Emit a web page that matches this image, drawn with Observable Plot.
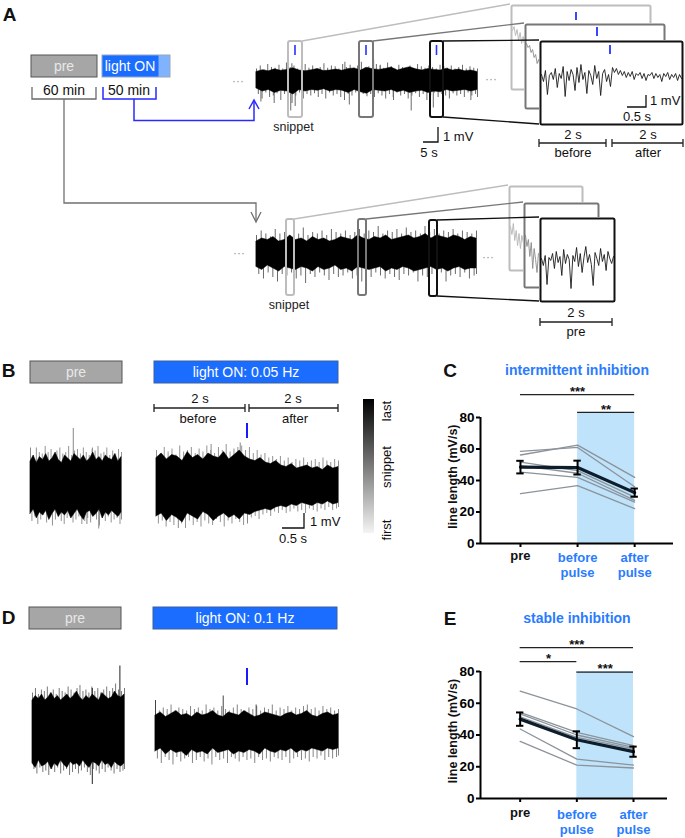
<!DOCTYPE html>
<html><head><meta charset="utf-8">
<script src="https://cdn.jsdelivr.net/npm/d3@7"></script>
<script src="https://cdn.jsdelivr.net/npm/@observablehq/plot@0.6"></script>
<style>
html,body{margin:0;padding:0;background:#fff;}
#fig{position:relative;width:685px;height:838px;overflow:hidden;font-family:"Liberation Sans",Arial,Helvetica,sans-serif;}
#fig svg{font-family:"Liberation Sans",Arial,Helvetica,sans-serif;}
.stat text{font-weight:bold;}
</style></head><body><div id="fig"></div>
<script>
// ================= DATA =================
// Panel C: line length (mV/s), 6 animals
const conditionLabels = ["pre", "before\npulse", "after\npulse"];
const cPre    = [58.5, 56.2, 51.6, 49.5, 45.3, 31.6];
const cBefore = [61.0, 62.5, 46.3, 44.6, 42.0, 36.8];
const cAfter  = [36.0, 42.0, 29.5, 27.4, 26.3, 22.1];
const cMean = [48.5, 48.2, 32.3];
const cSem  = [4.0, 4.4, 2.6];
const cSigPairs = [[1, 3, "***"], [2, 3, "**"]];
// Panel E
const ePre    = [67.6, 54.3, 53.3, 51.5, 43.8, 36.0];
const eBefore = [56.4, 41.7, 40.0, 38.5, 24.8, 21.0];
const eAfter  = [39.0, 33.3, 32.2, 31.2, 21.0, 19.2];
const eMean = [50.0, 37.0, 29.5];
const eSem  = [4.2, 5.3, 3.2];
const eSigPairs = [[1, 3, "***"], [1, 2, "*"], [2, 3, "***"]];
const yTicks = [0, 20, 40, 60, 80];

// Traces (mV): black core envelope (up/dn), outer hair extents (hairUp/hairDn), isolated spikes [time fraction, mV]
const aTopUp = [0.5,0.62,0.55,0.68,0.58,0.64,0.75,0.6,0.55,0.62,0.7,0.56,0.6,0.66,0.58,0.7,0.74,0.6,0.78,0.68,0.64,0.7,0.8,0.6,0.72,0.82,0.68,0.6,0.7,0.64,0.6,0.72,0.6,0.66,0.55,0.6,0.5];
const aTopDn = [-0.6,-0.8,-0.7,-0.9,-0.75,-0.8,-1.0,-0.7,-0.8,-0.7,-0.75,-0.65,-0.8,-0.7,-0.75,-0.9,-0.7,-0.85,-0.95,-0.7,-0.75,-0.8,-0.7,-0.85,-0.75,-0.9,-0.8,-0.75,-0.9,-0.8,-0.85,-0.7,-0.8,-0.75,-0.7,-0.8,-0.7];
const aTopHairUp = [0.7,0.9,0.65,1.0,0.8,0.75,0.95,0.7,1.1,0.8,0.9,0.7,0.85,1.0,0.75,0.9,0.7,0.8,1.05,0.75,0.9,0.85,0.7,1.0,0.8,0.95,0.75,0.9,1.15,0.8,0.85,0.7,1.0,0.9,0.75,1.1,0.85,0.7,0.95,0.8,0.75,0.9,0.7,1.0,0.85,0.75,0.9,0.8,0.7,0.95,0.85,0.75,0.9,0.7,0.8,0.95,0.7,0.85,0.75,0.7];
const aTopHairDn = [-1.0,-1.3,-0.9,-1.2,-1.1,-0.95,-1.4,-1.0,-1.2,-1.6,-1.1,-0.9,-1.3,-1.0,-1.1,-0.95,-1.2,-1.0,-1.3,-0.9,-1.1,-1.0,-1.2,-1.4,-1.0,-1.1,-0.9,-1.3,-1.0,-1.15,-1.0,-1.2,-0.95,-1.1,-1.3,-1.0,-1.2,-0.9,-1.1,-1.0,-1.3,-1.1,-0.95,-1.2,-1.0,-1.4,-1.1,-0.9,-1.2,-1.0,-1.1,-1.3,-0.95,-1.1,-1.0,-1.2,-0.9,-1.1,-1.0,-1.2];
const aTopSpikes = [[0.16,1.05],[0.4,1.15],[0.53,1.3],[0.56,0.95],[0.02,-1.5],[0.08,-1.6],[0.155,-2.1],[0.175,-1.8],[0.42,-1.7],[0.62,-1.4],[0.7,-2.1],[0.8,-1.9],[0.97,-1.4]];
const aBotUp = [0.8,1.0,0.9,1.1,0.8,0.9,1.2,0.9,1.0,0.8,1.1,0.9,1.0,0.8,0.9,1.1,1.0,0.9,1.2,1.0,0.9,1.1,1.0,1.2,0.9,1.0,1.1,1.2,1.0,1.1,1.3,1.0,1.2,1.1,1.0,1.2,1.1,0.9,1.1,1.0];
const aBotDn = [-0.9,-1.1,-0.8,-1.0,-1.2,-0.9,-1.0,-1.1,-0.9,-1.0,-1.2,-0.9,-1.1,-1.0,-0.8,-1.1,-1.0,-1.2,-0.9,-1.0,-1.1,-1.0,-0.9,-1.2,-1.0,-1.1,-0.9,-1.0,-1.2,-1.1,-1.0,-0.9,-1.1,-1.0,-1.2,-1.0,-0.9,-1.1,-1.0,-1.0];
const aBotHairUp = [1.2,1.5,1.3,1.1,1.6,1.3,1.4,1.2,1.5,1.3,1.7,1.2,1.4,1.3,1.5,1.2,1.6,1.4,1.3,1.5,1.2,1.4,1.6,1.3,1.5,1.4,1.8,1.3,1.5,1.4,1.6,1.3,1.7,1.4,1.5,1.3,1.8,1.4,1.6,1.3,1.5,1.4,1.6,1.3,1.5,1.4,1.3,1.5];
const aBotHairDn = [-1.4,-1.7,-1.3,-1.6,-1.9,-1.4,-1.5,-1.3,-1.7,-1.5,-2.0,-1.4,-1.6,-1.3,-1.5,-1.8,-1.4,-1.6,-1.5,-1.3,-1.7,-1.5,-1.9,-1.4,-1.6,-1.3,-1.5,-1.7,-1.4,-1.6,-1.8,-1.4,-1.5,-1.3,-1.9,-1.5,-1.6,-1.4,-1.7,-1.3,-1.9,-1.5,-1.4,-1.6,-1.3,-1.7,-1.5,-1.4];
// zoomed snippets (single traces, mV)
const aTopSnippet = [0.2,-0.5,0.6,-1.8,0.1,0.4,-0.3,0.8,-1.1,0.3,-0.2,1.0,-2.0,0.5,-0.4,0.7,0.2,-1.4,0.9,-0.6,1.2,-0.3,0.4,-1.7,0.6,0.1,-0.8,1.1,-0.2,0.5,-1.9,0.3,0.7,-0.5,0.2,-1.0,
  0.9,0.4,0.8,0.2,0.6,0.1,0.5,-0.1,0.4,0.0,0.5,-0.3,0.3,0.1,0.4,-0.2,0.3,-0.4,0.2,0.1,0.4,-0.2,0.3,-0.1,0.2,-0.5,0.3,0.0,0.4,-0.3,0.2,-0.1,0.3,-0.4,0.2,-0.2];
const aBotSnippet = [0.2,-0.5,0.5,-2.4,0.3,0.0,0.7,-0.8,0.9,-0.2,0.4,-1.5,1.1,-0.3,0.6,0.1,-2.8,0.5,-0.1,1.3,-0.6,0.7,-1.2,0.3,1.4,-0.2,0.6,-0.4,-2.5,0.8,0.2,-0.5,1.2,-0.1,0.6,-1.0,0.9,0.2,-0.3,0.4];
const aTopGhostBack = [0.8,1.2,0.3,0.9,-0.2,0.6,-0.5,0.2,-0.7,-0.1];
const aTopGhostMid  = [1.2,0.8,1.0,0.3,0.6,-0.2,0.1,-0.8,-0.4,-1.1];
const aBotGhostBack = [1.0,0.2,1.3,-0.4,0.6,-0.9,0.3,-1.2,0.1,-0.6];
const aBotGhostMid  = [1.5,0.4,1.1,-0.6,0.8,-1.8,0.2,-0.9,-2.2,-0.3];
// Panel B
const bPreUp = [1.6,2.0,1.5,1.9,1.7,2.1,1.6,1.8,2.2,1.7,1.5,2.0,1.8,1.6,2.1,1.9,1.7,2.0,1.6,1.8,2.2,1.7,1.9,1.6,2.0,1.8,1.7,2.1,1.6,1.9];
const bPreDn = [-1.9,-1.6,-2.2,-1.8,-2.0,-1.7,-2.3,-1.9,-1.6,-2.1,-1.8,-2.0,-1.7,-2.2,-1.9,-1.6,-2.0,-2.3,-1.8,-1.7,-2.1,-1.9,-1.6,-2.2,-1.8,-2.0,-1.7,-1.9,-2.1,-1.8];
const bPreHairUp = [2.3,2.0,2.5,2.2,2.1,2.6,2.2,2.4,2.0,2.3,2.5,2.1,2.2,2.6,2.0,2.3,2.4,2.1,2.5,2.2,2.0,2.4,2.3,2.6,2.1,2.2,2.5,2.0,2.3,2.1,2.4,2.2];
const bPreHairDn = [-2.4,-2.1,-2.6,-2.3,-2.0,-2.5,-2.2,-2.7,-2.3,-2.1,-2.4,-2.6,-2.2,-2.0,-2.5,-2.3,-2.1,-2.6,-2.4,-2.2,-2.5,-2.0,-2.3,-2.7,-2.2,-2.4,-2.1,-2.5,-2.3,-2.2,-2.6,-2.3];
const bPreSpikes = [[0.0,2.5],[0.47,3.8],[0.75,-2.9],[0.62,-2.6],[0.68,2.5]];
const bLightUp = [1.9,2.2,1.8,2.1,2.0,1.7,2.3,1.9,2.1,1.8,2.2,2.0,1.9,2.3,1.8,2.1,2.4,2.0,1.8,1.7,1.9,1.6,1.5,1.7,1.4,1.3,1.5,1.2,1.3,1.4,1.2,1.3,1.1,1.4,1.2,1.3];
const bLightDn = [-2.0,-1.8,-2.3,-1.9,-2.1,-2.4,-1.8,-2.0,-2.2,-1.7,-1.9,-2.3,-2.0,-1.8,-2.1,-1.9,-2.2,-1.8,-1.9,-1.7,-1.6,-1.5,-1.6,-1.4,-1.3,-1.4,-1.2,-1.3,-1.1,-1.2,-1.3,-1.1,-1.2,-1.0,-1.2,-1.1];
const bLightHairUp = [2.4,2.2,2.6,2.3,2.5,2.1,2.7,2.3,2.4,2.6,2.2,2.5,2.3,2.7,2.4,2.2,2.6,2.4,2.8,2.3,2.5,2.6,2.7,2.4,2.6,2.2,2.4,2.1,2.2,1.9,2.0,1.8,2.0,1.7,1.9,1.6,1.8,1.7,1.9,1.6,1.7,1.8,1.6,1.9,1.7,1.6,1.8,1.7];
const bLightHairDn = [-2.5,-2.3,-2.7,-2.4,-2.6,-2.2,-2.5,-2.8,-2.3,-2.6,-2.4,-2.7,-2.3,-2.5,-2.6,-2.2,-2.4,-2.7,-2.3,-2.5,-2.2,-2.4,-2.6,-2.3,-2.1,-2.0,-2.2,-1.9,-1.8,-2.0,-1.7,-1.8,-1.6,-1.8,-1.7,-1.5,-1.7,-1.6,-1.8,-1.5,-1.6,-1.7,-1.5,-1.6,-1.4,-1.6,-1.5,-1.4];
const bLightSpikes = [[0.3,2.8],[0.46,2.9],[0.5,-2.5],[0.12,-2.8]];
// Panel D
const dPreUp = [2.0,2.3,2.1,2.4,2.0,2.2,2.5,2.1,2.3,2.0,2.2,2.4,2.1,2.3,2.6,2.2,2.0,2.3,2.1,2.4,2.2,2.0,2.5,2.3,2.1,2.2,2.6,2.3,2.2,2.4];
const dPreDn = [-2.2,-2.5,-2.0,-2.4,-2.3,-2.1,-2.6,-2.2,-2.4,-2.0,-2.3,-2.5,-2.1,-2.3,-2.2,-2.4,-2.0,-2.3,-2.5,-2.1,-2.2,-2.4,-2.0,-2.3,-2.2,-2.5,-2.1,-2.3,-2.4,-2.2];
const dPreHairUp = [2.5,2.8,2.4,2.7,2.6,2.9,2.5,2.7,2.4,2.8,2.6,2.5,2.9,2.7,2.5,2.8,3.0,2.6,2.7,2.5,2.9,2.6,2.8,2.5,2.7,2.9,2.6,2.8,3.1,2.7,2.6,2.8];
const dPreHairDn = [-2.6,-2.9,-2.5,-2.8,-2.7,-3.0,-2.6,-2.8,-2.5,-2.9,-2.7,-2.6,-3.0,-2.8,-2.6,-2.9,-2.7,-2.5,-2.8,-3.0,-2.6,-2.7,-2.9,-2.6,-2.8,-2.5,-2.7,-2.9,-2.6,-2.8,-2.7,-2.6];
const dPreSpikes = [[0.95,4.3],[0.65,-3.6],[0.65,2.8]];
const dLightUp = [1.2,1.4,1.1,1.3,1.5,1.2,1.3,1.1,1.4,1.2,1.3,1.5,1.2,1.1,1.4,1.3,1.2,1.5,1.3,1.1,1.2,1.4,1.3,1.2,1.1,1.3,1.4,1.2,1.3,1.5,1.2,1.1,1.3,1.4,1.2,1.3];
const dLightDn = [-1.2,-1.0,-1.4,-1.1,-1.3,-1.2,-1.5,-1.1,-1.3,-1.2,-1.4,-1.0,-1.3,-1.2,-1.1,-1.4,-1.2,-1.3,-1.1,-1.2,-1.4,-1.0,-1.2,-1.3,-1.1,-1.2,-1.0,-1.3,-1.1,-1.2,-1.0,-1.1,-1.2,-1.0,-1.1,-1.0];
const dLightHairUp = [1.8,1.5,1.7,1.6,1.9,1.5,1.7,1.6,1.5,1.8,1.6,1.7,1.5,1.9,1.6,1.7,1.5,1.8,1.6,1.5,1.7,1.9,1.6,1.5,1.7,1.6,1.8,1.5,1.7,1.6,1.9,1.5,1.7,1.6,1.8,1.5,1.7,1.6,1.8,1.9,1.6,1.7,1.5,1.8,1.6,1.7,1.5,1.6];
const dLightHairDn = [-1.7,-2.0,-1.6,-1.8,-2.1,-1.6,-1.9,-1.7,-1.6,-2.0,-1.8,-1.6,-1.9,-1.7,-2.1,-1.6,-1.8,-1.7,-2.0,-1.6,-1.7,-1.9,-1.6,-1.8,-1.7,-2.0,-1.6,-1.8,-1.7,-1.9,-1.6,-1.7,-1.8,-1.6,-2.0,-1.7,-1.6,-1.8,-1.7,-1.9,-1.6,-1.7,-1.5,-1.8,-1.6,-1.7,-1.6,-1.5];
const dLightSpikes = [[0.0,2.2],[0.37,2.5],[0.55,1.9]];

// ================= DRAWING =================
const BLUE = "#1a6dff", TITLE_BLUE = "#2a7cff", SHADE = "#bfe3fa";
const fig = document.getElementById("fig");
function place(node, left, top) {
  node.style.position = "absolute"; node.style.left = left + "px"; node.style.top = top + "px";
  fig.appendChild(node);
}
const idx = arr => arr.map((v, i) => ({t: i / (arr.length - 1), v}));

function trace({left, top, width, height, cy, pxPerMv, up, dn, hairUp, hairDn, hairColor = "#555", spikes, spikeColor = "#6a6a6a", line, lineSpan = 1, lineColor = "#151515", lineWidth = 0.9, frameColor, bg = "transparent"}) {
  const yLo = -(top + height - cy) / pxPerMv, yHi = (cy - top) / pxPerMv;
  const pad = frameColor ? 2 : 0;
  const marks = [];
  if (hairUp) {
    marks.push(Plot.ruleX(idx(hairUp), {x: "t", y1: 0, y2: "v", stroke: hairColor, strokeWidth: 0.8}));
    marks.push(Plot.ruleX(idx(hairDn).map(d => ({t: Math.min(1, d.t + 0.5 / hairDn.length), v: d.v})), {x: "t", y1: 0, y2: "v", stroke: hairColor, strokeWidth: 0.8}));
  }
  if (spikes) marks.push(Plot.ruleX(spikes, {x: d => d[0], y1: 0, y2: d => d[1], stroke: spikeColor, strokeWidth: 1}));
  if (up) {
    const env = up.map((u, i) => ({t: i / (up.length - 1), u, d: dn[i]}));
    marks.push(Plot.areaY(env, {x: "t", y1: "d", y2: "u", fill: "#000", stroke: "#000", strokeWidth: 0.5}));
  }
  if (line) marks.push(Plot.line(line.map((v, i) => ({t: i / (line.length - 1) * lineSpan, v})), {x: "t", y: "v", stroke: lineColor, strokeWidth: lineWidth}));
  if (frameColor) marks.push(Plot.frame({stroke: frameColor, strokeWidth: 2, inset: 1, rx: 1.5}));
  const chart = Plot.plot({
    width, height, margin: 0,
    x: {domain: [0, 1], range: [pad, width - pad], axis: null},
    y: {domain: [yLo, yHi], axis: null},
    style: {background: bg, overflow: "visible"},
    marks
  });
  place(chart, left, top);
}

function stat({left, top, width, height, marginTop, marginBottom, xEnd, xMax, pre, before, after, mean, sem, sigPairs, sigLevels, shadeTop, labelDy}) {
  const x0 = 0.3;
  const indiv = [];
  pre.forEach((v, i) => { indiv.push({s: i, c: 1, v: pre[i]}, {s: i, c: 2, v: before[i]}, {s: i, c: 3, v: after[i]}); });
  const m = mean.map((v, i) => ({c: i + 1, v, lo: v - sem[i], hi: v + sem[i]}));
  const sig = sigPairs.map((p, i) => ({a: p[0], b: p[1], t: p[2], lvl: sigLevels[i]}));
  const cap = 0.065;
  const chart = Plot.plot({
    width, height, marginLeft: 100, marginRight: width - (xEnd - left), marginTop, marginBottom,
    x: {domain: [x0, xMax], axis: null, label: null},
    y: {domain: [0, 100], axis: null, label: null},
    style: {background: "transparent", overflow: "visible"},
    marks: [
      Plot.rect([0], {x1: 2, x2: 3, y1: 0, y2: shadeTop, fill: SHADE}),
      Plot.line(indiv, {x: "c", y: "v", z: "s", stroke: "#8b939b", strokeWidth: 1.3}),
      Plot.line(m, {x: "c", y: "v", stroke: "#0d1d2b", strokeWidth: 3.2}),
      Plot.ruleX(m, {x: "c", y1: "lo", y2: "hi", stroke: "#000", strokeWidth: 2}),
      Plot.ruleY(m, {x1: d => d.c - cap, x2: d => d.c + cap, y: "lo", stroke: "#000", strokeWidth: 2}),
      Plot.ruleY(m, {x1: d => d.c - cap, x2: d => d.c + cap, y: "hi", stroke: "#000", strokeWidth: 2}),
      Plot.ruleX([x0], {y1: 0, y2: 80, stroke: "#000", strokeWidth: 2}),
      Plot.ruleY([0], {x1: x0, x2: xMax, stroke: "#000", strokeWidth: 2}),
      Plot.axisY({ticks: yTicks, tickSize: 4, tickPadding: 2, fontSize: 13.5, strokeWidth: 2, label: null}),
      Plot.axisX({ticks: [1, 2, 3], tickSize: 4, tickFormat: () => "", strokeWidth: 2, label: null}),
      Plot.text(conditionLabels.slice(0, 1), {x: 1, y: 0, text: d => d, dy: labelDy, lineAnchor: "top", fontSize: 13, fill: "#111"}),
      Plot.text(conditionLabels.slice(1), {x: (d, i) => i + 2, y: 0, text: d => d, dy: labelDy, lineAnchor: "top", fontSize: 13, lineHeight: 1.2, fill: TITLE_BLUE}),
      Plot.ruleY(sig, {x1: "a", x2: "b", y: "lvl", stroke: "#222", strokeWidth: 1.3}),
      Plot.text(sig, {x: d => (d.a + d.b) / 2, y: "lvl", text: "t", dy: -3, fontSize: 13, fill: "#111"}),
      Plot.text(["line length (mV/s)"], {x: x0, y: 42.5, text: d => d, rotate: -90, dx: -28, fontSize: 12.5, fill: "#111"})
    ]
  });
  chart.classList.add("stat");
  place(chart, left, top);
}

// ---- Panel A traces ----
trace({left: 256, top: 55, width: 221, height: 62, cy: 79, pxPerMv: 15, up: aTopUp, dn: aTopDn, hairUp: aTopHairUp, hairDn: aTopHairDn, spikes: aTopSpikes, hairColor: "#444", spikeColor: "#6a6a6a"});
trace({left: 256, top: 222, width: 220, height: 66, cy: 253, pxPerMv: 15, up: aBotUp, dn: aBotDn, hairUp: aBotHairUp, hairDn: aBotHairDn, hairColor: "#444"});
// top zoom boxes (back to front)
trace({left: 510, top: 4, width: 141, height: 86, cy: 38, pxPerMv: 10, line: aTopGhostBack, lineSpan: 0.1, lineColor: "#b5b5b5", frameColor: "#bdbdbd", bg: "#fff"});
trace({left: 524, top: 23, width: 141, height: 86, cy: 55, pxPerMv: 10, line: aTopGhostMid, lineSpan: 0.1, lineColor: "#8a8a8a", frameColor: "#777", bg: "#fff"});
trace({left: 539, top: 40, width: 144, height: 85, cy: 76, pxPerMv: 10, line: aTopSnippet, lineColor: "#1a1a1a", frameColor: "#111", bg: "#fff"});
// bottom zoom boxes
trace({left: 508, top: 185, width: 75, height: 86, cy: 236, pxPerMv: 10, line: aBotGhostBack, lineSpan: 0.18, lineColor: "#b5b5b5", frameColor: "#bdbdbd", bg: "#fff"});
trace({left: 523, top: 202, width: 76, height: 86, cy: 250, pxPerMv: 10, line: aBotGhostMid, lineSpan: 0.18, lineColor: "#8a8a8a", frameColor: "#777", bg: "#fff"});
trace({left: 539, top: 217, width: 76, height: 85, cy: 260, pxPerMv: 10, line: aBotSnippet, lineColor: "#1a1a1a", frameColor: "#111", bg: "#fff"});

// ---- Panel B / D traces ----
trace({left: 30, top: 420, width: 91, height: 112, cy: 485, pxPerMv: 15, up: bPreUp, dn: bPreDn, hairUp: bPreHairUp, hairDn: bPreHairDn, hairColor: "#777", spikes: bPreSpikes, spikeColor: "#888"});
trace({left: 156, top: 440, width: 182, height: 90, cy: 486, pxPerMv: 15, up: bLightUp, dn: bLightDn, hairUp: bLightHairUp, hairDn: bLightHairDn, hairColor: "#777", spikes: bLightSpikes, spikeColor: "#888"});
trace({left: 32, top: 660, width: 92, height: 130, cy: 730, pxPerMv: 15, up: dPreUp, dn: dPreDn, hairUp: dPreHairUp, hairDn: dPreHairDn, hairColor: "#555", spikes: dPreSpikes, spikeColor: "#222"});
trace({left: 155, top: 690, width: 183, height: 80, cy: 733, pxPerMv: 15, up: dLightUp, dn: dLightDn, hairUp: dLightHairUp, hairDn: dLightHairDn, hairColor: "#666", spikes: dLightSpikes, spikeColor: "#444"});

// ---- Panels C / E ----
stat({left: 380, top: 372, width: 300, height: 211, marginTop: 13.5, marginBottom: 40, xEnd: 673, xMax: 3.68,
  pre: cPre, before: cBefore, after: cAfter, mean: cMean, sem: cSem, sigPairs: cSigPairs, sigLevels: [94.5, 83.2], shadeTop: 83.2, labelDy: 7});
stat({left: 380, top: 626, width: 300, height: 210, marginTop: 13.25, marginBottom: 38, xEnd: 667, xMax: 3.6,
  pre: ePre, before: eBefore, after: eAfter, mean: eMean, sem: eSem, sigPairs: eSigPairs, sigLevels: [95.1, 86.2, 79.6], shadeTop: 80, labelDy: 9});

// ---- Overlay schematic ----
const svg = d3.select(fig).append("svg").attr("width", 685).attr("height", 838)
  .style("position", "absolute").style("left", "0px").style("top", "0px").style("pointer-events", "none");
const defs = svg.append("defs");
const grad = defs.append("linearGradient").attr("id", "cbar").attr("x1", 0).attr("x2", 0).attr("y1", 0).attr("y2", 1);
grad.append("stop").attr("offset", "0%").attr("stop-color", "#000");
grad.append("stop").attr("offset", "100%").attr("stop-color", "#f4f4f4");

function txt(x, y, s, o = {}) {
  const t = svg.append("text").attr("x", x).attr("y", y).attr("text-anchor", o.anchor || "middle")
    .attr("dominant-baseline", "central").attr("font-size", o.size || 13).attr("fill", o.fill || "#111").text(s);
  if (o.bold) t.attr("font-weight", "bold");
  if (o.rotate) t.attr("transform", `rotate(${o.rotate},${x},${y})`);
  return t;
}
function path(d, stroke, w = 1.3) {
  svg.append("path").attr("d", d).attr("fill", "none").attr("stroke", stroke).attr("stroke-width", w);
}
function box(x, y, w, h, fill, stroke, sw = 1, rx = 0) {
  svg.append("rect").attr("x", x).attr("y", y).attr("width", w).attr("height", h).attr("rx", rx)
    .attr("fill", fill).attr("stroke", stroke).attr("stroke-width", sw);
}
function bracket(x1, x2, y, color = "#222") { path(`M${x1},${y - 4}V${y + 4}M${x1},${y}H${x2}M${x2},${y - 4}V${y + 4}`, color, 1.3); }

// Panel letters
txt(9.5, 14, "A", {size: 19, bold: true});
txt(8.5, 370, "B", {size: 19, bold: true});
txt(8.5, 617, "D", {size: 19, bold: true});
txt(450, 370, "C", {size: 19, bold: true});
txt(450, 618, "E", {size: 19, bold: true});

// Panel A timeline
box(31, 55, 66, 22, "#a6a6a6", "#555", 1);
txt(64, 66, "pre", {size: 14, fill: "#e8e8e8"});
box(102, 55, 68, 22, "#80b3ff", "#9aa6b8", 1);
box(102.5, 55.5, 56, 21, BLUE, "none");
txt(130, 66, "light ON", {size: 14, fill: "#fff"});
txt(64, 90, "60 min", {size: 14});
txt(129, 90, "50 min", {size: 14});
path("M32,87V99H96V87", "#6a6a6a", 1.3);
path("M103,87V99H156V87", "#2a2aff", 1.5);
path("M134,99V120.5H254V101", "#2a2aff", 1.5);
path("M249,109L254,100L259,109", "#2a2aff", 1.5);
path("M64,99V203H256V221", "#707070", 1.3);
path("M251,212L256,222L261,212", "#707070", 1.3);
txt(238, 81, "···", {size: 12, fill: "#999"});
txt(491, 79, "···", {size: 12, fill: "#999"});
txt(239, 253, "···", {size: 12, fill: "#999"});
txt(488, 257, "···", {size: 12, fill: "#999"});

// top snippet boxes & connectors
path("M302,41L510,4", "#bdbdbd", 1.3);
path("M373,41L524,23", "#777", 1.3);
path("M443,41L539,40M443,117L539,124", "#111", 1.3);
box(288, 41, 14, 76, "none", "#bdbdbd", 2, 2);
box(359, 41, 14, 76, "none", "#777", 2, 2);
box(430, 41, 13, 76, "none", "#111", 2, 2);
[295, 366, 436.5].forEach(x => path(`M${x},45V55`, "#2233ff", 1.6));
[[576, 12, 20], [597, 27, 36], [610, 45, 54]].forEach(([x, a, b]) => path(`M${x},${a}V${b}`, "#2233ff", 1.8));
txt(293.5, 127, "snippet", {size: 12.5, fill: "#222"});
path("M423,142H438V127", "#111", 1.3);
txt(443, 136, "1 mV", {size: 13, anchor: "start"});
txt(429, 152, "5 s", {size: 13});
path("M627,107H646V95", "#111", 1.3);
txt(650, 100, "1 mV", {size: 13, anchor: "start"});
txt(637, 116, "0.5 s", {size: 13});
bracket(539, 606, 143); bracket(612, 683, 143);
txt(573, 134, "2 s", {size: 13}); txt(648, 134, "2 s", {size: 13});
txt(573, 152, "before", {size: 13}); txt(648, 152, "after", {size: 13});

// bottom snippet boxes & connectors
path("M294,219L508,185", "#bdbdbd", 1.3);
path("M366,219L523,202", "#777", 1.3);
path("M437,220L539,217M437,296L539,301", "#111", 1.3);
box(286, 219, 8, 76, "none", "#bdbdbd", 2, 2);
box(358, 219, 8, 76, "none", "#777", 2, 2);
box(429, 220, 8, 76, "none", "#111", 2, 2);
txt(289, 305, "snippet", {size: 12.5, fill: "#222"});
bracket(540, 612, 322);
txt(576, 312, "2 s", {size: 13});
txt(576, 331, "pre", {size: 13});

// Panel B
box(30, 361, 92, 22, "#a6a6a6", "#555", 1);
txt(76, 372, "pre", {size: 14, fill: "#e8e8e8"});
box(154, 361, 184, 22, BLUE, "#3d5f9e", 1);
txt(246, 372, "light ON: 0.05 Hz", {size: 14, fill: "#fff"});
bracket(154, 245, 408); bracket(249, 338, 408);
txt(200, 398, "2 s", {size: 13}); txt(293, 398, "2 s", {size: 13});
txt(198, 418, "before", {size: 13}); txt(295, 418, "after", {size: 13});
path("M247,423V438", "#1a1aff", 2);
path("M282,528H304V513", "#111", 1.3);
txt(310, 521, "1 mV", {size: 13, anchor: "start"});
txt(293, 538, "0.5 s", {size: 13});
svg.append("rect").attr("x", 363).attr("y", 399).attr("width", 11).attr("height", 134).attr("fill", "url(#cbar)");
txt(386, 411, "last", {size: 13, rotate: -90});
txt(386, 467, "snippet", {size: 13, rotate: -90});
txt(386, 530, "first", {size: 13, rotate: -90});

// Panel D
box(29, 607, 92, 22, "#a6a6a6", "#555", 1);
txt(75, 618, "pre", {size: 14, fill: "#e8e8e8"});
box(153, 607, 184, 22, BLUE, "#3d5f9e", 1);
txt(245, 618, "light ON: 0.1 Hz", {size: 14, fill: "#fff"});
path("M247,668V685", "#1a1aff", 2);

// Panel C/E titles
txt(577, 370, "intermittent inhibition", {size: 14, bold: true, fill: TITLE_BLUE});
txt(577, 618, "stable inhibition", {size: 14, bold: true, fill: TITLE_BLUE});
</script></body></html>
